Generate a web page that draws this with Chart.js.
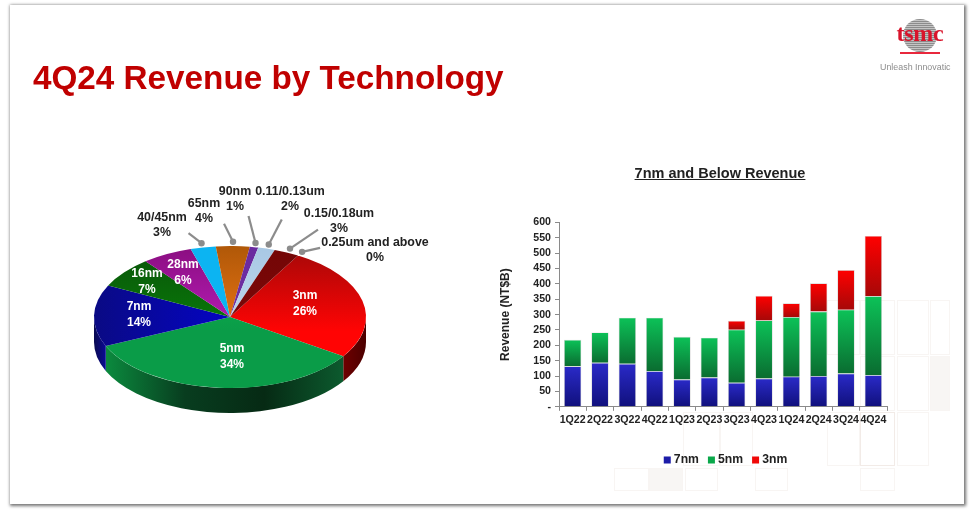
<!DOCTYPE html>
<html>
<head>
<meta charset="utf-8">
<title>4Q24 Revenue by Technology</title>
<script src="https://cdn.jsdelivr.net/npm/chart.js@4"></script>
<style>
    html, body { margin: 0; padding: 0; width: 974px; height: 518px; overflow: hidden; background: #fff; font-family: "Liberation Sans", Arial, sans-serif; }
    #page { position: absolute; left: 0; top: 0; width: 974px; height: 518px; filter: blur(0.45px); }
    #slide { position: absolute; left: 10px; top: 5px; width: 954px; height: 499px; background: #fff; box-shadow: 1px 1px 3px 1px rgba(0,0,0,.55); }
    .square { position: absolute; box-sizing: border-box; border: 1px solid #f8f5f3; }
    #title { position: absolute; left: 33px; top: 58px; font-size: 33.25px; line-height: 40px; font-weight: bold; color: #c00000; white-space: nowrap; }
    #barTitle { position: absolute; left: 520px; width: 400px; top: 165px; text-align: center; font-size: 14.5px; line-height: 16px; font-weight: bold; color: #222; text-decoration: underline; }
    #pieWrap { position: absolute; left: 0; top: 147px; width: 480px; height: 340px; }
    #barWrap { position: absolute; left: 495px; top: 212px; width: 460px; height: 264px; }
    #wafer { position: absolute; left: 903px; top: 19px; width: 34px; height: 33px; border-radius: 50%; background: repeating-linear-gradient(0deg, #8c8c8c 0 1px, #c4c4c4 1px 2px), #aaa; }
    #tsmc { position: absolute; left: 885px; width: 70px; top: 21px; text-align: center; font-family: "Liberation Serif", serif; font-weight: bold; font-size: 24px; line-height: 24px; color: #d9142b; letter-spacing: -0.3px; }
    #logoLine { position: absolute; left: 900px; top: 52px; width: 40px; height: 1.5px; background: #e8283c; }
    #tagline { position: absolute; left: 880px; top: 62px; width: 71px; overflow: hidden; white-space: nowrap; font-size: 8.9px; line-height: 11px; color: #8d8d8d; }
</style>
</head>
<body>
<div id="page">
<div id="slide"></div>
<div id="squares"></div>
<div id="title">4Q24 Revenue by Technology</div>
<div id="wafer"></div>
<div id="tsmc">tsmc</div>
<div id="logoLine"></div>
<div id="tagline">Unleash Innovatic</div>
<div id="barTitle">7nm and Below Revenue</div>
<div id="pieWrap"><canvas id="pieCanvas"></canvas></div>
<div id="barWrap"><canvas id="barCanvas"></canvas></div>
</div>

<script>
    // share of 4Q24 revenue, percent
    const techNames = ["3nm", "5nm", "7nm", "16nm", "28nm", "40/45nm", "65nm", "90nm", "0.11/0.13um", "0.15/0.18um", "0.25um and above"];
    const techShare = [26, 34, 14, 7, 6, 3, 4, 1, 2, 3, 0];

    // 7nm and below, NT$B
    const quarters = ["1Q22", "2Q22", "3Q22", "4Q22", "1Q23", "2Q23", "3Q23", "4Q23", "1Q24", "2Q24", "3Q24", "4Q24"];
    const rev7nm = [132, 143, 140, 116, 89, 95, 78, 92, 98, 100, 108, 103];
    const rev5nm = [86, 99, 150, 174, 139, 130, 173, 189, 194, 210, 208, 257];
    const rev3nm = [0, 0, 0, 0, 0, 0, 29, 80, 45, 92, 129, 196];

    // colours of the pie faces: first stop, second stop
    const faceTop = ["#a30808", "#0cb850", "#0a0a84", "#0a520a", "#8a0e80", "#0cb4f2", "#b05808", "#6a2aa0", "#a8c8e4", "#740606", "#740606"];
    const faceBottom = ["#ff0404", "#0a9c48", "#0404c4", "#087c08", "#b81cb8", "#0cb4f2", "#ea7414", "#7030a0", "#c0d8ee", "#7c0808", "#7c0808"];
    const faceAcross = [false, false, true, false, false, false, false, false, false, false, false];
    const rimStops = {
        0: ["#6e0000", "#4c0000"],
        1: ["#0b8a3e", "#083d1f", "#062a14", "#0c5a2e"],
        2: ["#0a0a50", "#0a0a96"]
    };

    // page positions of the pie texts
    const pieInside = { 0: [305, 296], 1: [232, 349], 2: [139, 307], 3: [147, 274], 4: [183, 265] };
    const pieOutside = { 5: [162, 218], 6: [204, 204], 7: [235, 192], 8: [290, 192], 9: [339, 214], 10: [375, 243] };
    // where each leader starts, relative to its dot
    const leaderTail = { 5: [-13, -10], 6: [-9, -18], 7: [-7, -27], 8: [13, -25], 9: [28, -19], 10: [18, -4] };

    const squares = [
        [614, 468, 35, 23, ""], [649, 468, 34, 23, "#f8f6f4"], [685, 468, 33, 23, ""], [755, 468, 33, 23, ""], [860, 468, 35, 23, ""],
        [683, 412, 37, 54, ""], [720, 412, 33, 54, ""], [827, 412, 33, 54, ""], [860, 412, 35, 54, "", "#f2ebe7"], [897, 412, 32, 54, ""],
        [827, 300, 33, 55, ""], [860, 300, 35, 55, ""], [897, 300, 32, 55, ""], [930, 300, 20, 55, ""],
        [860, 356, 35, 55, ""], [897, 356, 32, 55, ""], [930, 356, 20, 55, "#f8f6f4"]
    ];
    squares.forEach(function (s) {
        const d = document.createElement('div');
        d.className = 'square';
        d.style.cssText = 'left:' + s[0] + 'px;top:' + s[1] + 'px;width:' + s[2] + 'px;height:' + s[3] + 'px;' +
            (s[4] ? 'background:' + s[4] + ';' : '') + (s[5] ? 'border-color:' + s[5] : '');
        document.getElementById('squares').appendChild(d);
    });

    Chart.defaults.font.family = '"Liberation Sans", Arial, sans-serif';
    Chart.defaults.font.weight = 'bold';
    Chart.defaults.animation = false;

    const tilt = 0.522;
    const depth = 25;
    const pieTop = 147;

    // flattens the library's arcs into an ellipse and adds the side wall
    const pieTilt = {
        id: 'pieTilt',
        beforeDatasetsDraw(chart) {
            const ctx = chart.ctx;
            const arcs = chart.getDatasetMeta(0).data;
            const first = arcs[0];
            const cx = first.x, cy = first.y, r = first.outerRadius;
            ctx.save();
            arcs.forEach(function (arc, i) {
                const a0 = Math.max(arc.startAngle, 0);
                const a1 = Math.min(arc.endAngle, Math.PI);
                if (a1 <= a0 || !rimStops[i]) return;
                const grad = ctx.createLinearGradient(cx + r * Math.cos(a1), 0, cx + r * Math.cos(a0), 0);
                rimStops[i].forEach(function (c, n) { grad.addColorStop(n / (rimStops[i].length - 1), c); });
                ctx.fillStyle = grad;
                ctx.beginPath();
                ctx.ellipse(cx, cy, r, r * tilt, 0, a0, a1);
                ctx.ellipse(cx, cy + depth, r, r * tilt, 0, a1, a0, true);
                ctx.closePath();
                ctx.fill();
            });
            ctx.translate(0, cy);
            ctx.scale(1, tilt);
            ctx.translate(0, -cy);
        },
        afterDatasetsDraw(chart) {
            const ctx = chart.ctx;
            const arcs = chart.getDatasetMeta(0).data;
            ctx.restore();
            ctx.save();
            ctx.textAlign = 'center';
            ctx.textBaseline = 'middle';
            // leaders
            Object.keys(leaderTail).forEach(function (k) {
                const arc = arcs[k];
                const mid = (arc.startAngle + arc.endAngle) / 2;
                const dx = arc.x + arc.outerRadius * 1.06 * Math.cos(mid);
                const dy = arc.y + arc.outerRadius * 1.06 * tilt * Math.sin(mid);
                ctx.strokeStyle = '#8c8c8c';
                ctx.fillStyle = '#8c8c8c';
                ctx.lineWidth = 2.2;
                ctx.beginPath();
                ctx.moveTo(dx + leaderTail[k][0], dy + leaderTail[k][1]);
                ctx.lineTo(dx, dy);
                ctx.stroke();
                ctx.beginPath();
                ctx.arc(dx, dy, 3.2, 0, Math.PI * 2);
                ctx.fill();
            });
            ctx.font = 'bold 12px "Liberation Sans", Arial, sans-serif';
            ctx.fillStyle = '#fff';
            Object.keys(pieInside).forEach(function (k) {
                ctx.fillText(techNames[k], pieInside[k][0], pieInside[k][1] - pieTop);
                ctx.fillText(techShare[k] + '%', pieInside[k][0], pieInside[k][1] + 15.5 - pieTop);
            });
            ctx.font = 'bold 12.4px "Liberation Sans", Arial, sans-serif';
            ctx.fillStyle = '#222';
            Object.keys(pieOutside).forEach(function (k) {
                ctx.fillText(techNames[k], pieOutside[k][0], pieOutside[k][1] - pieTop);
                ctx.fillText(techShare[k] + '%', pieOutside[k][0], pieOutside[k][1] + 15 - pieTop);
            });
            ctx.restore();
        }
    };

    function faceFill(context) {
        const chart = context.chart;
        const area = chart.chartArea;
        if (!area) return faceBottom[context.dataIndex];
        const i = context.dataIndex;
        const cx = (area.left + area.right) / 2;
        const cy = (area.top + area.bottom) / 2;
        const r = (area.bottom - area.top) / 2;
        const grad = faceAcross[i]
            ? chart.ctx.createLinearGradient(cx - r, 0, cx, 0)
            : chart.ctx.createLinearGradient(0, cy - r, 0, cy + r);
        grad.addColorStop(0, faceTop[i]);
        grad.addColorStop(faceAcross[i] ? 1 : 0.6, faceBottom[i]);
        grad.addColorStop(1, faceBottom[i]);
        return grad;
    }

    new Chart(document.getElementById('pieCanvas'), {
        type: 'pie',
        data: {
            labels: techNames,
            datasets: [{ data: techShare, backgroundColor: faceFill, borderWidth: 0, clip: false }]
        },
        options: {
            responsive: true,
            maintainAspectRatio: false,
            rotation: 30,
            layout: { padding: { top: 34, bottom: 34, right: 20, left: 0 } },
            plugins: { legend: { display: false }, tooltip: { enabled: false } }
        },
        plugins: [pieTilt]
    });

    // each bar fades from top to bottom over its own stack segment
    const barSeries = [rev7nm, rev5nm, rev3nm];
    const barFades = [["#2a2ac8", "#10107c"], ["#0cc258", "#0a6c30"], ["#ff0000", "#a60808"]];
    function barFill(context) {
        const chart = context.chart;
        const d = context.datasetIndex, i = context.dataIndex;
        const y = chart.scales.y;
        if (!y || i === undefined) return barFades[d][0];
        let base = 0;
        for (let n = 0; n < d; n++) base += barSeries[n][i];
        const grad = chart.ctx.createLinearGradient(0, y.getPixelForValue(base + barSeries[d][i]), 0, y.getPixelForValue(base));
        grad.addColorStop(0, barFades[d][0]);
        grad.addColorStop(1, barFades[d][1]);
        return grad;
    }

    const legendColors = ["#1c1ca8", "#0aa84a", "#f00808"];

    // the legend sits under the whole slide column, not under the plot
    const legendShift = {
        id: 'legendShift',
        afterLayout(chart) {
            chart.legend.left += 36;
            chart.legend.right += 36;
        }
    };

    new Chart(document.getElementById('barCanvas'), {
        type: 'bar',
        data: {
            labels: quarters,
            datasets: [
                { label: "7nm", data: rev7nm, backgroundColor: barFill },
                { label: "5nm", data: rev5nm, backgroundColor: barFill },
                { label: "3nm", data: rev3nm, backgroundColor: barFill }
            ]
        },
        options: {
            responsive: true,
            maintainAspectRatio: false,
            layout: { padding: { top: 10, right: 68, left: 0, bottom: 0 } },
            datasets: { bar: { categoryPercentage: 1, barPercentage: 0.635, borderColor: 'rgba(150,150,150,.45)', borderWidth: 0.7 } },
            scales: {
                x: {
                    stacked: true,
                    afterFit(s) { s.height = 35; },
                    grid: { drawOnChartArea: false, color: '#8a8a8a', tickLength: 4 },
                    border: { color: '#8a8a8a' },
                    ticks: { autoSkip: false, maxRotation: 0, color: '#222', font: { size: 10.6 }, padding: 3 }
                },
                y: {
                    stacked: true,
                    min: 0,
                    max: 600,
                    afterFit(s) { s.width = 64; },
                    grid: { drawOnChartArea: false, color: '#8a8a8a', tickLength: 4 },
                    border: { color: '#8a8a8a' },
                    ticks: {
                        stepSize: 50,
                        autoSkip: false,
                        color: '#222',
                        font: { size: 10.6 },
                        padding: 4,
                        callback: function (v) { return v === 0 ? '-' : v; }
                    },
                    title: { display: true, text: "Revenue (NT$B)", color: '#222', font: { size: 12 }, padding: { top: 3, bottom: 3 } }
                }
            },
            plugins: {
                tooltip: { enabled: false },
                legend: {
                    position: 'bottom',
                    labels: {
                        usePointStyle: true,
                        boxWidth: 1,
                        boxHeight: 7,
                        padding: 12,
                        color: '#222',
                        font: { size: 12.2 },
                        generateLabels: function (chart) {
                            return chart.data.datasets.map(function (ds, i) {
                                return { text: ds.label, fillStyle: legendColors[i], strokeStyle: legendColors[i], lineWidth: 0, pointStyle: 'rect', fontColor: '#222', datasetIndex: i };
                            });
                        }
                    }
                }
            }
        },
        plugins: [legendShift]
    });
</script>
</body>
</html>
